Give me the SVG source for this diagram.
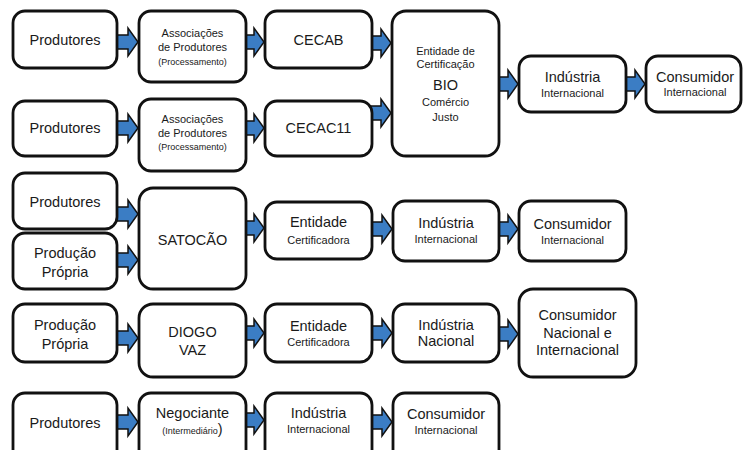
<svg xmlns="http://www.w3.org/2000/svg" xmlns:xlink="http://www.w3.org/1999/xlink" width="744" height="450" viewBox="0 0 744 450">
<style>
.box{fill:#fff;stroke:#111;stroke-width:2.8}
text{font-family:"Liberation Sans",Arial,sans-serif;fill:#1a1a1a;text-anchor:middle}
.m{font-size:14.5px}
.s{font-size:11px}
.xs{font-size:9px}
.arr{fill:#3b7dc4;stroke:#111;stroke-width:1.5;stroke-linejoin:miter}
</style>
<defs>
<path id="a" d="M-21,-7 H-10 V-14 L0,0 L-10,14 V7 H-21 Z"/>
</defs>
<rect width="744" height="450" fill="#fff"/>
<g id="connectors" class="arr">
<use href="#a" x="138" y="42"/>
<use href="#a" x="264" y="42"/>
<use href="#a" x="391" y="43"/>
<use href="#a" x="518" y="84"/>
<use href="#a" x="645" y="84"/>
<use href="#a" x="138" y="128"/>
<use href="#a" x="264" y="128"/>
<use href="#a" x="391" y="113"/>
<use href="#a" x="138" y="214"/>
<use href="#a" x="138" y="260"/>
<use href="#a" x="264" y="228"/>
<use href="#a" x="392" y="229"/>
<use href="#a" x="518" y="229"/>
<use href="#a" x="138" y="338"/>
<use href="#a" x="264" y="333"/>
<use href="#a" x="392" y="333"/>
<use href="#a" x="518" y="334"/>
<use href="#a" x="138" y="422"/>
<use href="#a" x="264" y="420"/>
<use href="#a" x="392" y="422"/>
</g>
<g id="r1_produtores"><rect class="box" x="13" y="11" width="104" height="57" rx="12"/><text class="m" x="65" y="45">Produtores</text></g>
<g id="r1_associacoes"><rect class="box" x="139" y="11" width="107" height="71" rx="12"/><text class="s" x="192.5" y="37">Associações</text><text class="s" x="192.5" y="51">de Produtores</text><text class="xs" x="192.5" y="65">(Processamento)</text></g>
<g id="r1_cecab"><rect class="box" x="265" y="11" width="107" height="57" rx="12"/><text class="m" x="318.5" y="45">CECAB</text></g>
<g id="bio"><rect class="box" x="392" y="11" width="107" height="145" rx="14"/><text class="s" x="445.5" y="55">Entidade de</text><text class="s" x="445.5" y="68">Certificação</text><text class="m" x="445.5" y="90">BIO</text><text class="s" x="445.5" y="106">Comércio</text><text class="s" x="445.5" y="121">Justo</text></g>
<g id="r1_industria"><rect class="box" x="519" y="56" width="107" height="56" rx="12"/><text class="m" x="572.5" y="82">Indústria</text><text class="s" x="572.5" y="97">Internacional</text></g>
<g id="r1_consumidor"><rect class="box" x="646" y="56" width="95" height="56" rx="12"/><text class="m" x="695" y="82">Consumidor</text><text class="s" x="695" y="96">Internacional</text></g>
<g id="r2_produtores"><rect class="box" x="13" y="101" width="104" height="55" rx="12"/><text class="m" x="65" y="133">Produtores</text></g>
<g id="r2_associacoes"><rect class="box" x="139" y="99" width="107" height="72" rx="12"/><text class="s" x="192.5" y="123">Associações</text><text class="s" x="192.5" y="137">de Produtores</text><text class="xs" x="192.5" y="150">(Processamento)</text></g>
<g id="r2_cecac11"><rect class="box" x="265" y="101" width="107" height="55" rx="12"/><text class="m" x="318.5" y="133">CECAC11</text></g>
<g id="r3_produtores"><rect class="box" x="13" y="173" width="104" height="56" rx="12"/><text class="m" x="65" y="207">Produtores</text></g>
<g id="r3_producao_propria"><rect class="box" x="13" y="233" width="104" height="56" rx="12"/><text class="m" x="65" y="258">Produção</text><text class="m" x="65" y="277">Própria</text></g>
<g id="satocao"><rect class="box" x="139" y="188" width="107" height="101" rx="14"/><text class="m" x="192.5" y="245">SATOCÃO</text></g>
<g id="r3_entidade"><rect class="box" x="265" y="202" width="107" height="57" rx="12"/><text class="m" x="318.5" y="227">Entidade</text><text class="s" x="318.5" y="244">Certificadora</text></g>
<g id="r3_industria"><rect class="box" x="393" y="201" width="106" height="60" rx="12"/><text class="m" x="446" y="228">Indústria</text><text class="s" x="446" y="243">Internacional</text></g>
<g id="r3_consumidor"><rect class="box" x="519" y="201" width="107" height="60" rx="12"/><text class="m" x="572.5" y="229">Consumidor</text><text class="s" x="572.5" y="244">Internacional</text></g>
<g id="r4_producao_propria"><rect class="box" x="13" y="304" width="104" height="58" rx="12"/><text class="m" x="65" y="330">Produção</text><text class="m" x="65" y="349">Própria</text></g>
<g id="diogo_vaz"><rect class="box" x="139" y="304" width="107" height="73" rx="14"/><text class="m" x="192.5" y="337">DIOGO</text><text class="m" x="192.5" y="355">VAZ</text></g>
<g id="r4_entidade"><rect class="box" x="265" y="304" width="107" height="58" rx="12"/><text class="m" x="318.5" y="331">Entidade</text><text class="s" x="318.5" y="346">Certificadora</text></g>
<g id="r4_industria"><rect class="box" x="393" y="304" width="106" height="58" rx="12"/><text class="m" x="446" y="330">Indústria</text><text class="m" x="446" y="346">Nacional</text></g>
<g id="r4_consumidor"><rect class="box" x="519" y="289" width="117" height="88" rx="14"/><text class="m" x="577.5" y="320">Consumidor</text><text class="m" x="577.5" y="338">Nacional e</text><text class="m" x="577.5" y="355">Internacional</text></g>
<g id="r5_produtores"><rect class="box" x="13" y="393" width="104" height="70" rx="12"/><text class="m" x="65" y="428">Produtores</text></g>
<g id="negociante"><rect class="box" x="139" y="393" width="107" height="70" rx="12"/><text class="m" x="192.5" y="418">Negociante</text><text x="192.5" y="434"><tspan class="xs">(Intermediário</tspan><tspan class="m">)</tspan></text></g>
<g id="r5_industria"><rect class="box" x="265" y="393" width="107" height="70" rx="12"/><text class="m" x="318.5" y="418">Indústria</text><text class="s" x="318.5" y="433">Internacional</text></g>
<g id="r5_consumidor"><rect class="box" x="393" y="393" width="106" height="70" rx="12"/><text class="m" x="446" y="419">Consumidor</text><text class="s" x="446" y="434">Internacional</text></g>
</svg>
